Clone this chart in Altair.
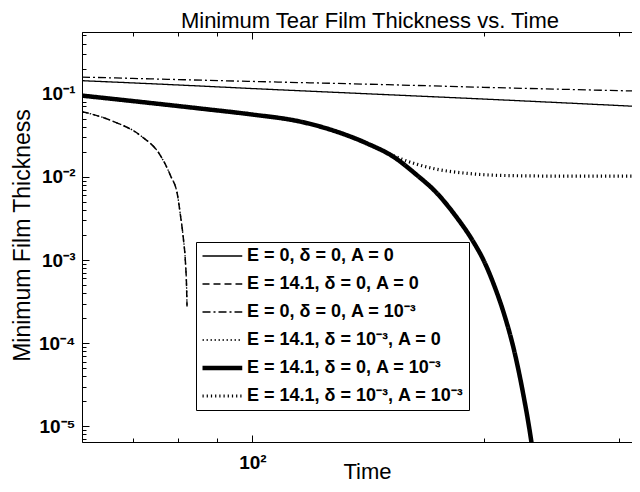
import json
import altair as alt
import pandas as pd

FONT = "Liberation Sans, Arial, Helvetica, sans-serif"

# ---- data ----
labels = [
    "E = 0, δ = 0, A = 0",
    "E = 14.1, δ = 0, A = 0",
    "E = 0, δ = 0, A = 10⁻³",
    "E = 14.1, δ = 10⁻³, A = 0",
    "E = 14.1, δ = 0, A = 10⁻³",
    "E = 14.1, δ = 10⁻³, A = 10⁻³",
]

t1 = [60, 80, 100, 150, 200, 250, 334]
h1 = [0.143, 0.127, 0.115, 0.097, 0.086, 0.078, 0.0685]

t2 = [60.0, 66.0, 71.5, 75.9, 78.2, 79.9, 80.6, 81.3, 81.8, 82.1, 82.2]
h2 = [0.0608, 0.0461, 0.0313, 0.0180, 0.0104, 0.00597, 0.00343, 0.00182, 0.000961, 0.000456, 0.000277]

t3 = [60, 100, 150, 200, 250, 334]
h3 = [0.158, 0.140, 0.128, 0.119, 0.113, 0.106]

t4 = [60.0, 66.0, 71.5, 75.9, 78.2, 79.9, 80.6, 81.3, 81.8, 82.1, 82.2]
h4 = [0.0608, 0.0461, 0.0313, 0.0180, 0.0104, 0.00597, 0.00343, 0.00182, 0.000961, 0.000456, 0.000277]

t5 = [60, 85.6, 100, 115.4, 127.4, 141.1, 152.5, 163.9, 173.0, 183.6, 193.8, 200.3, 206.4, 212.7, 219.1,
      225.1, 230.6, 233.3]
h5 = [0.0946, 0.0661, 0.056, 0.0461, 0.0360, 0.0251, 0.0175, 0.0104, 0.00667, 0.00345, 0.00167, 0.000961,
      0.000495, 0.000222, 8.22e-5, 2.50e-5, 6.82e-6, 3.15e-6]

t6 = [60, 85.6, 100, 115.4, 127.4, 141.1, 146.7, 155.7, 171.9, 190.4, 210.1, 251.5, 334]
h6 = [0.0946, 0.0661, 0.056, 0.0461, 0.0360, 0.0251, 0.0213, 0.0166, 0.0126, 0.0110, 0.0104, 0.0102, 0.0102]

x_ticks = [60, 70, 80, 90, 100, 200, 300]
x_labelled = [100]
y_labelled = [1e-5, 1e-4, 1e-3, 1e-2, 1e-1]
y_ticks = [7e-6, 8e-6, 9e-6,
           1e-5, 2e-5, 3e-5, 4e-5, 5e-5, 6e-5, 7e-5, 8e-5, 9e-5,
           1e-4, 2e-4, 3e-4, 4e-4, 5e-4, 6e-4, 7e-4, 8e-4, 9e-4,
           1e-3, 2e-3, 3e-3, 4e-3, 5e-3, 6e-3, 7e-3, 8e-3, 9e-3,
           1e-2, 2e-2, 3e-2, 4e-2, 5e-2, 6e-2, 7e-2, 8e-2, 9e-2,
           0.1, 0.2, 0.3, 0.4, 0.5]

# ---- styles ----
dashes = [[1, 0], [7, 4], [8, 3, 2, 3], [1.5, 2.5], [1, 0], [1.2, 3]]
widths = [1.3, 1.5, 1.3, 1.3, 4.5, 3.2]

series_t = [t1, t2, t3, t4, t5, t6]
series_h = [h1, h2, h3, h4, h5, h6]
rows = []
for lab, ts, hs, w in zip(labels, series_t, series_h, widths):
    for t, h in zip(ts, hs):
        rows.append({"series": lab, "t": t, "h": h, "w": w})
df = pd.DataFrame(rows)

W, H = 550, 410
xs = alt.Scale(type="log", domain=[60, 312], nice=False)
ys = alt.Scale(type="log", domain=[6.5e-6, 0.55], nice=False)

major_test = "abs(log(datum.value)/LN10 - round(log(datum.value)/LN10)) < 1e-6"
tick_len = {"condition": {"test": major_test, "value": 7}, "value": 4}

y_label_expr = ("datum.value > 0.05 ? '10⁻¹' : datum.value > 0.005 ? '10⁻²' : "
                "datum.value > 0.0005 ? '10⁻³' : datum.value > 0.00005 ? '10⁻⁴' : '10⁻⁵'")

lab_js = json.dumps(labels, ensure_ascii=False)
sw_expr = ("(datum && datum.value && indexof(" + lab_js + ", datum.value) >= 0) ? "
           + json.dumps(widths) + "[indexof(" + lab_js + ", datum.value)] : 1.5")

base = alt.Chart(df)

lines = base.mark_line(clip=True, interpolate="monotone", color="black").encode(
    x=alt.X("t:Q", scale=xs, axis=alt.Axis(
        orient="bottom", values=x_labelled, labelExpr="'10²'", ticks=False, tickSize=0, grid=False,
        domainColor="black", domainWidth=1, labelFont=FONT, labelFontSize=19, labelFontWeight="bold",
        labelColor="black", labelPadding=11, title="Time", titleFont=FONT, titleFontSize=22,
        titleFontWeight="normal", titleColor="black", titleX=285, titleY=36, titleBaseline="alphabetic")),
    y=alt.Y("h:Q", scale=ys, axis=alt.Axis(
        orient="left", values=y_labelled, labelExpr=y_label_expr, ticks=False, tickSize=0, grid=False,
        domainColor="black", domainWidth=1, labelFont=FONT, labelFontSize=19, labelFontWeight="bold",
        labelColor="black", labelPadding=7, title="Minimum Film Thickness", titleFont=FONT,
        titleFontSize=23, titleFontWeight="normal", titleColor="black", titleX=-60, titleY=203,
        titleAngle=270, titleBaseline="middle", titleAlign="center")),
    strokeDash=alt.StrokeDash("series:N", scale=alt.Scale(domain=labels, range=dashes),
                              legend=alt.Legend(
                                  title=None, orient="none", legendX=114, legendY=210,
                                  direction="vertical", symbolType="M-1,0H4.3", symbolSize=225,
                                  symbolStrokeColor="black",
                                  symbolStrokeWidth=alt.ExprRef(sw_expr),
                                  labelFont=FONT, labelFontSize=18, labelFontWeight="bold",
                                  labelColor="black", labelOffset=28, labelLimit=500,
                                  rowPadding=10, padding=5, strokeColor="black", fillColor="white")),
    strokeWidth=alt.StrokeWidth("w:Q", scale=None),
)


def tick_layer(xaxis, yaxis):
    return base.mark_point(opacity=0, clip=True).encode(
        x=alt.X("t:Q", scale=xs, axis=xaxis),
        y=alt.Y("h:Q", scale=ys, axis=yaxis),
    )


tick_common = dict(labels=False, grid=False, title=None, tickColor="black", tickWidth=1, tickSize=tick_len)

bottom_in = tick_layer(alt.Axis(orient="top", offset=-H, values=x_ticks, domain=False, **tick_common), None)
top_in = tick_layer(alt.Axis(orient="bottom", offset=-H, values=x_ticks, domain=True, domainColor="black",
                             domainWidth=1, **tick_common), None)
left_in = tick_layer(None, alt.Axis(orient="right", offset=-W, values=y_ticks, domain=False, **tick_common))

chart = alt.layer(lines, bottom_in, top_in, left_in).resolve_axis(
    x="independent", y="independent"
).properties(
    width=W, height=H,
    autosize=alt.AutoSizeParams(type="none"),
    padding={"left": 74, "top": 24, "right": 0, "bottom": 40},
    background="white",
    title=alt.TitleParams("Minimum Tear Film Thickness vs. Time", font=FONT, fontSize=22,
                          fontWeight="normal", color="black", anchor="middle", offset=4, dx=13, dy=5),
).configure_view(stroke=None)

chart.save("out.html", embed_options={"renderer": "svg", "actions": False})
